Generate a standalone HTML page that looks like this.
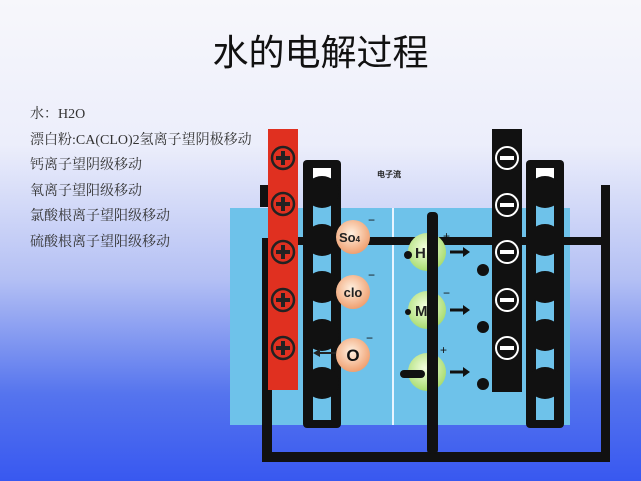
<!DOCTYPE html>
<html><head><meta charset="utf-8"><style>
html,body{margin:0;padding:0;}
body{width:641px;height:481px;overflow:hidden;background:linear-gradient(180deg,#f7f7fb 0%,#eceefb 30%,#b4c0f4 58%,#5574ee 82%,#3858f0 100%);font-family:"Liberation Serif","Noto Serif CJK SC",serif;position:relative;}
.t{position:absolute;left:0;width:641px;top:24px;text-align:center;font-family:"Liberation Sans","Noto Sans CJK SC",sans-serif;font-size:36px;color:#111;}
.l{position:absolute;left:30px;font-size:14px;color:#333;}
</style></head><body>
<div class="t">水的电解过程</div>
<div class="l" style="top:103px">水：H2O</div>
<div class="l" style="top:129px">漂白粉:CA(CLO)2氢离子望阴极移动</div>
<div class="l" style="top:154px">钙离子望阴级移动</div>
<div class="l" style="top:180px">氧离子望阳级移动</div>
<div class="l" style="top:205px">氯酸根离子望阳级移动</div>
<div class="l" style="top:231px">硫酸根离子望阳级移动</div>
<svg width="641" height="481" style="position:absolute;left:0;top:0" font-family="Liberation Sans,sans-serif">
<defs>
<radialGradient id="o" cx="45%" cy="40%" r="60%"><stop offset="0" stop-color="#fff0e0"/><stop offset="1" stop-color="#f0a070"/></radialGradient>
<radialGradient id="g" cx="45%" cy="40%" r="60%"><stop offset="0" stop-color="#f4ffe0"/><stop offset="1" stop-color="#a8dc70"/></radialGradient>
</defs>
<rect x="230" y="208" width="340" height="217" fill="#6ec2ea"/>
<line x1="393" y1="208" x2="393" y2="425" stroke="#e8f4ff" stroke-width="2"/>
<rect x="260" y="185" width="9" height="22" fill="#111"/>
<rect x="262" y="238" width="10" height="224" fill="#111"/>
<rect x="262" y="452" width="348" height="10" fill="#111"/>
<rect x="601" y="185" width="9" height="277" fill="#111"/>
<rect x="298" y="237" width="312" height="8" fill="#111"/>
<rect x="268" y="129" width="30" height="261" fill="#e03020"/>
<g stroke="#222" stroke-width="2.5" fill="none">
<circle cx="283" cy="158" r="11"/><circle cx="283" cy="204" r="11"/><circle cx="283" cy="252" r="11"/><circle cx="283" cy="300" r="11"/><circle cx="283" cy="348" r="11"/>
</g>
<g stroke="#222" stroke-width="4">
<path d="M276 158h14M283 151v14M276 204h14M283 197v14M276 252h14M283 245v14M276 300h14M283 293v14M276 348h14M283 341v14"/>
</g>
<g id="lad">
<rect x="303" y="160" width="38" height="268" rx="4" fill="#111"/>
<rect x="313" y="168" width="18" height="252" fill="#6ec2ea"/>
<rect x="313" y="168" width="18" height="10" fill="#fff"/>
<ellipse cx="322" cy="192" rx="17" ry="16" fill="#111"/>
<ellipse cx="322" cy="240" rx="17" ry="16" fill="#111"/>
<ellipse cx="322" cy="287" rx="17" ry="16" fill="#111"/>
<ellipse cx="322" cy="335" rx="17" ry="16" fill="#111"/>
<ellipse cx="322" cy="383" rx="17" ry="16" fill="#111"/>
</g>
<use href="#lad" x="223"/>
<rect x="492" y="129" width="30" height="263" fill="#111"/>
<g stroke="#fff" stroke-width="2" fill="none">
<circle cx="507" cy="158" r="11"/><circle cx="507" cy="205" r="11"/><circle cx="507" cy="252" r="11"/><circle cx="507" cy="300" r="11"/><circle cx="507" cy="348" r="11"/>
</g>
<g stroke="#fff" stroke-width="4"><path d="M500 158h14M500 205h14M500 252h14M500 300h14M500 348h14"/></g>
<text x="377" y="177" font-size="8" font-weight="bold" fill="#222">电子流</text>
<circle cx="353" cy="237" r="17" fill="url(#o)"/><text x="339" y="242" font-size="13" font-weight="bold" fill="#222">So<tspan font-size="8">4</tspan></text>
<circle cx="353" cy="292" r="17" fill="url(#o)"/><text x="353" y="297" font-size="13" font-weight="bold" fill="#222" text-anchor="middle">clo</text>
<circle cx="353" cy="355" r="17" fill="url(#o)"/><text x="353" y="361" font-size="17" font-weight="bold" fill="#111" text-anchor="middle">O</text>
<g fill="#111" font-size="12"><text x="368" y="224">−</text><text x="368" y="279">−</text><text x="366" y="342">−</text></g>
<path d="M336 353h-17" stroke="#222" stroke-width="2"/><path d="M313 353l7-4v8z" fill="#222"/>
<circle cx="427" cy="252" r="19" fill="url(#g)"/><circle cx="427" cy="310" r="19" fill="url(#g)"/><circle cx="427" cy="372" r="19" fill="url(#g)"/>
<rect x="427" y="212" width="11" height="242" fill="#111" rx="4"/>
<g font-size="15" font-weight="bold" fill="#222"><text x="415" y="258">H</text><text x="415" y="316">M</text></g>
<g fill="#111"><circle cx="408" cy="255" r="4"/><circle cx="408" cy="312" r="3"/><rect x="400" y="370" width="25" height="8" rx="4"/>
<circle cx="483" cy="270" r="6"/><circle cx="483" cy="327" r="6"/><circle cx="483" cy="384" r="6"/></g>
<g stroke="#111" stroke-width="3"><path d="M450 252h14M450 310h14M450 372h14"/></g>
<g fill="#111"><path d="M470 252l-7-5v10zM470 310l-7-5v10zM470 372l-7-5v10z"/></g>
<g fill="#111" font-size="12"><text x="443" y="240">+</text><text x="443" y="297">−</text><text x="440" y="354">+</text></g>
</svg>
</body></html>
